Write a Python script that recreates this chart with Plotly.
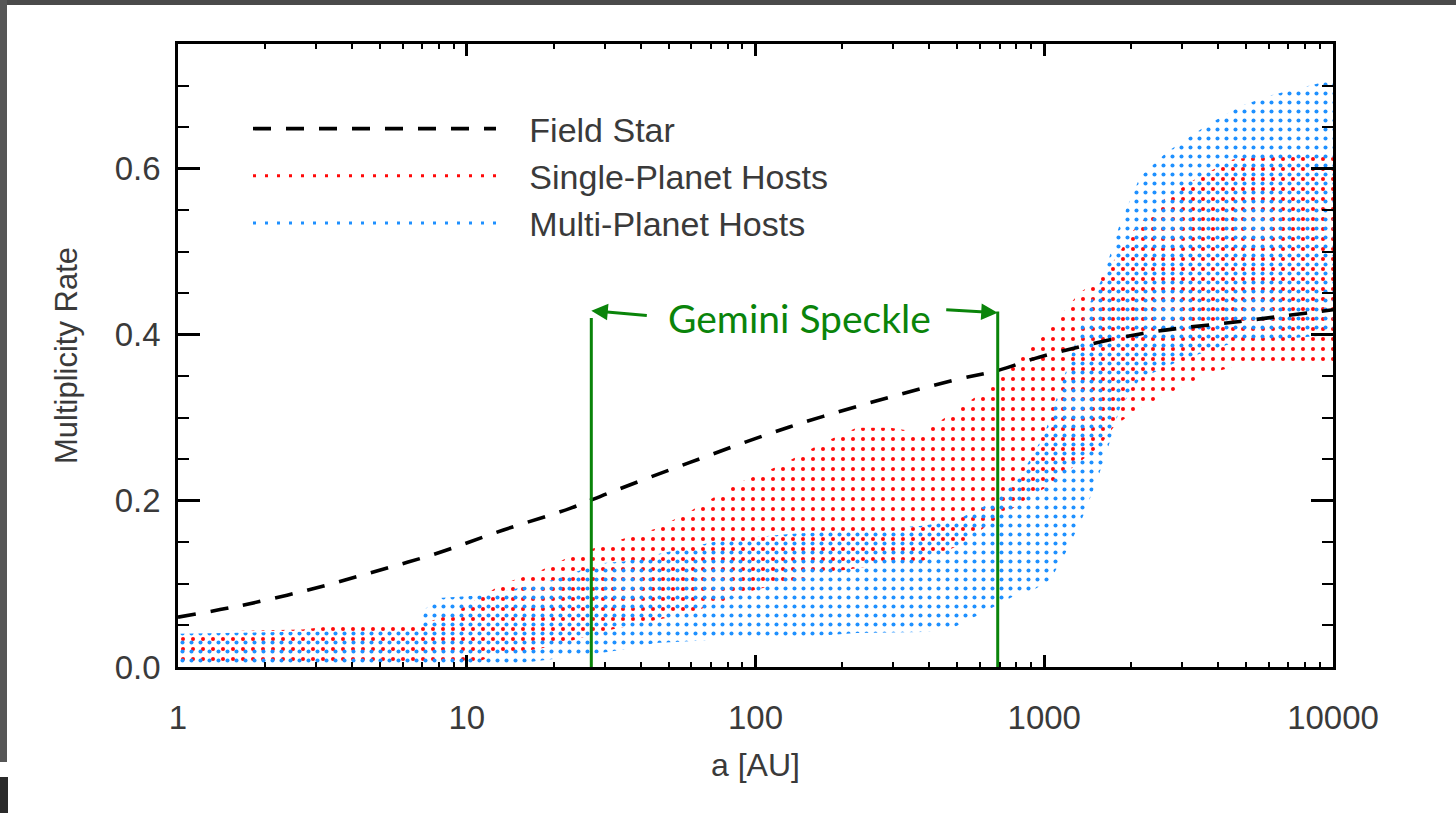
import math
import plotly.graph_objects as go

# ---------------- data ----------------
field_a = [1, 1.6, 2.7, 4.6, 7.9, 13.4, 22.8, 31.3, 59, 131, 293, 497, 706, 960, 2146, 4760, 10000]
field_rate = [0.060, 0.073, 0.091, 0.113, 0.137, 0.165, 0.191, 0.210, 0.246, 0.289, 0.325, 0.346,
              0.358, 0.373, 0.401, 0.416, 0.430]

single_a_upper = [1, 2.7, 3.55, 5.7, 7.5, 9, 13.3, 17.5, 22.8, 29.7, 45.6, 59, 88, 124, 171, 224,
                  293, 380, 497, 650, 1000, 1320, 1520, 1750, 2040, 2660, 3430, 4500, 6200, 10000]
single_upper = [0.042, 0.045, 0.050, 0.053, 0.055, 0.065, 0.100, 0.114, 0.133, 0.147, 0.167, 0.187,
                0.222, 0.244, 0.270, 0.288, 0.288, 0.282, 0.310, 0.337, 0.400, 0.450, 0.465, 0.490,
                0.526, 0.566, 0.590, 0.611, 0.617, 0.615]
single_a_lower = [1, 10, 12, 20, 29, 59, 100, 171, 293, 380, 497, 650, 850, 1000, 1250, 1550,
                  1750, 2150, 2800, 3650, 4760, 10000]
single_lower = [0.0, 0.0, 0.012, 0.025, 0.042, 0.065, 0.093, 0.113, 0.125, 0.128, 0.145, 0.173,
                0.200, 0.215, 0.240, 0.265, 0.290, 0.312, 0.332, 0.352, 0.364, 0.364]

multi_a_upper = [1, 6.8, 7.2, 8, 12, 15, 20, 29, 35, 77, 131, 224, 380, 497, 650, 850, 1000,
                 1200, 1400, 1600, 1830, 2146, 2660, 3650, 4760, 6200, 8130, 10000]
multi_upper = [0.040, 0.045, 0.070, 0.083, 0.087, 0.095, 0.105, 0.125, 0.127, 0.153, 0.160, 0.165,
               0.170, 0.177, 0.197, 0.237, 0.280, 0.360, 0.430, 0.470, 0.534, 0.590, 0.620, 0.652,
               0.675, 0.689, 0.699, 0.707]
multi_a_lower = [1, 12, 20, 29, 35, 45, 77, 131, 224, 380, 470, 610, 780, 920, 1050, 1200, 1360,
                 1520, 1660, 1830, 2146, 3000, 4500, 10000]
multi_lower = [0.0, 0.0, 0.010, 0.017, 0.021, 0.029, 0.033, 0.035, 0.041, 0.042, 0.045, 0.065,
               0.085, 0.093, 0.105, 0.141, 0.181, 0.224, 0.263, 0.312, 0.347, 0.370, 0.390, 0.400]

speckle_a = [27, 690]
speckle_top = [0.420, 0.428]

x_tickvals = [1, 10, 100, 1000, 10000]
x_ticktext = ["1", "10", "100", "1000", "10000"]
x_minorvals = [m * d for d in (1, 10, 100, 1000) for m in range(2, 10)]
y_tickvals = [0.0, 0.2, 0.4, 0.6]
y_ticktext = ["0.0", "0.2", "0.4", "0.6"]

# ---------------- geometry helpers ----------------
W, H = 1456, 813
PL, PR, PT, PB = 178, 1333, 44, 667


def px_x(p):
    return (p - PL) / (PR - PL)


def px_y(p):
    return (PB - p) / (PB - PT)


RED = "rgb(255,10,10)"
BLUE = "rgb(30,144,255)"
GREEN = "#0a840a"
TXT = "#3a3a3a"
FONT = "Liberation Sans"

fig = go.Figure()

# single-planet band (red dotted)
fig.add_trace(go.Scatter(
    x=single_a_upper + single_a_lower[::-1],
    y=single_upper + single_lower[::-1],
    fill="toself", mode="lines", line=dict(width=0),
    fillcolor="rgba(0,0,0,0)",
    fillpattern=dict(shape=".", fgcolor=RED, bgcolor="rgba(0,0,0,0)", size=10,
                     solidity=0.13, fillmode="replace"),
    showlegend=False, hoverinfo="skip"))

# multi-planet band (blue dotted)
fig.add_trace(go.Scatter(
    x=multi_a_upper + multi_a_lower[::-1],
    y=multi_upper + multi_lower[::-1],
    fill="toself", mode="lines", line=dict(width=0),
    fillcolor="rgba(0,0,0,0)",
    fillpattern=dict(shape=".", fgcolor=BLUE, bgcolor="rgba(0,0,0,0)", size=9,
                     solidity=0.16, fillmode="replace"),
    showlegend=False, hoverinfo="skip"))

# field star curve
fig.add_trace(go.Scatter(
    x=field_a, y=field_rate, mode="lines", name="\u00a0\u00a0\u00a0Field Star",
    line=dict(color="black", width=3.6, dash="18px,15px", shape="spline", smoothing=1.0)))

# Gemini speckle limits
for a, top in zip(speckle_a, speckle_top):
    fig.add_trace(go.Scatter(x=[a, a], y=[0, top], mode="lines",
                             line=dict(color=GREEN, width=3), showlegend=False, hoverinfo="skip"))

# legend entries for the bands
fig.add_trace(go.Scatter(x=[None], y=[None], mode="lines", name="\u00a0\u00a0\u00a0Single-Planet Hosts",
                         line=dict(color=RED, width=3, dash="3px,9px")))
fig.add_trace(go.Scatter(x=[None], y=[None], mode="lines", name="\u00a0\u00a0\u00a0Multi-Planet Hosts",
                         line=dict(color=BLUE, width=3, dash="3px,9px")))

axis_common = dict(showline=True, linecolor="black", linewidth=2.5, mirror="allticks",
                   ticks="inside", tickcolor="black", tickwidth=2.5, showgrid=False, zeroline=False,
                   tickfont=dict(family=FONT, size=33, color=TXT))

fig.update_xaxes(type="log", range=[0, 4], tickmode="array", tickvals=x_tickvals, ticktext=x_ticktext,
                 ticklen=12, ticklabelstandoff=20,
                 minor=dict(tickmode="array", tickvals=x_minorvals, ticks="inside", ticklen=5,
                            tickwidth=2, tickcolor="black"),
                 title=dict(text="a [AU]", font=dict(family=FONT, size=32, color=TXT), standoff=19),
                 **axis_common)
fig.update_yaxes(range=[0, 0.75], tickmode="array", tickvals=y_tickvals, ticktext=y_ticktext,
                 ticklen=22, ticklabelstandoff=8,
                 minor=dict(dtick=0.05, ticks="inside", ticklen=11, tickwidth=2, tickcolor="black"),
                 title=dict(text="Multiplicity Rate", font=dict(family=FONT, size=31, color=TXT), standoff=28),
                 **axis_common)

annotations = [
    dict(x=2.154, y=0.42, xref="x", yref="y", text="Gemini Speckle", showarrow=False,
         font=dict(family="Lato", size=39, color=GREEN)),
    dict(x=math.log10(speckle_a[0]), y=0.429, xref="x", yref="y", text="", showarrow=True, ax=57, ay=5,
         arrowhead=2, arrowsize=1.1, arrowwidth=3, arrowcolor=GREEN),
    dict(x=math.log10(speckle_a[1]), y=0.4265, xref="x", yref="y", text="", showarrow=True, ax=-53, ay=-3,
         arrowhead=2, arrowsize=1.1, arrowwidth=3, arrowcolor=GREEN),
]

shapes = [
    dict(type="rect", xref="paper", yref="paper", x0=px_x(0), x1=px_x(W), y0=px_y(0), y1=px_y(5),
         fillcolor="#4a4a4a", line=dict(width=0), layer="above"),
    dict(type="rect", xref="paper", yref="paper", x0=px_x(0), x1=px_x(7), y0=px_y(0), y1=px_y(762),
         fillcolor="#565656", line=dict(width=0), layer="above"),
    dict(type="rect", xref="paper", yref="paper", x0=px_x(0), x1=px_x(8), y0=px_y(777), y1=px_y(H),
         fillcolor="#2a2a2a", line=dict(width=0), layer="above"),
]

fig.update_layout(
    width=W, height=H, autosize=False,
    margin=dict(l=PL, r=W - PR, t=PT, b=H - PB, pad=0),
    paper_bgcolor="white", plot_bgcolor="white",
    showlegend=True,
    legend=dict(x=px_x(248), y=px_y(100), xanchor="left", yanchor="top",
                bgcolor="rgba(0,0,0,0)", borderwidth=0, itemwidth=243,
                font=dict(family=FONT, size=34, color=TXT)),
    annotations=annotations,
    shapes=shapes,
)

fig.write_html("out.html")
